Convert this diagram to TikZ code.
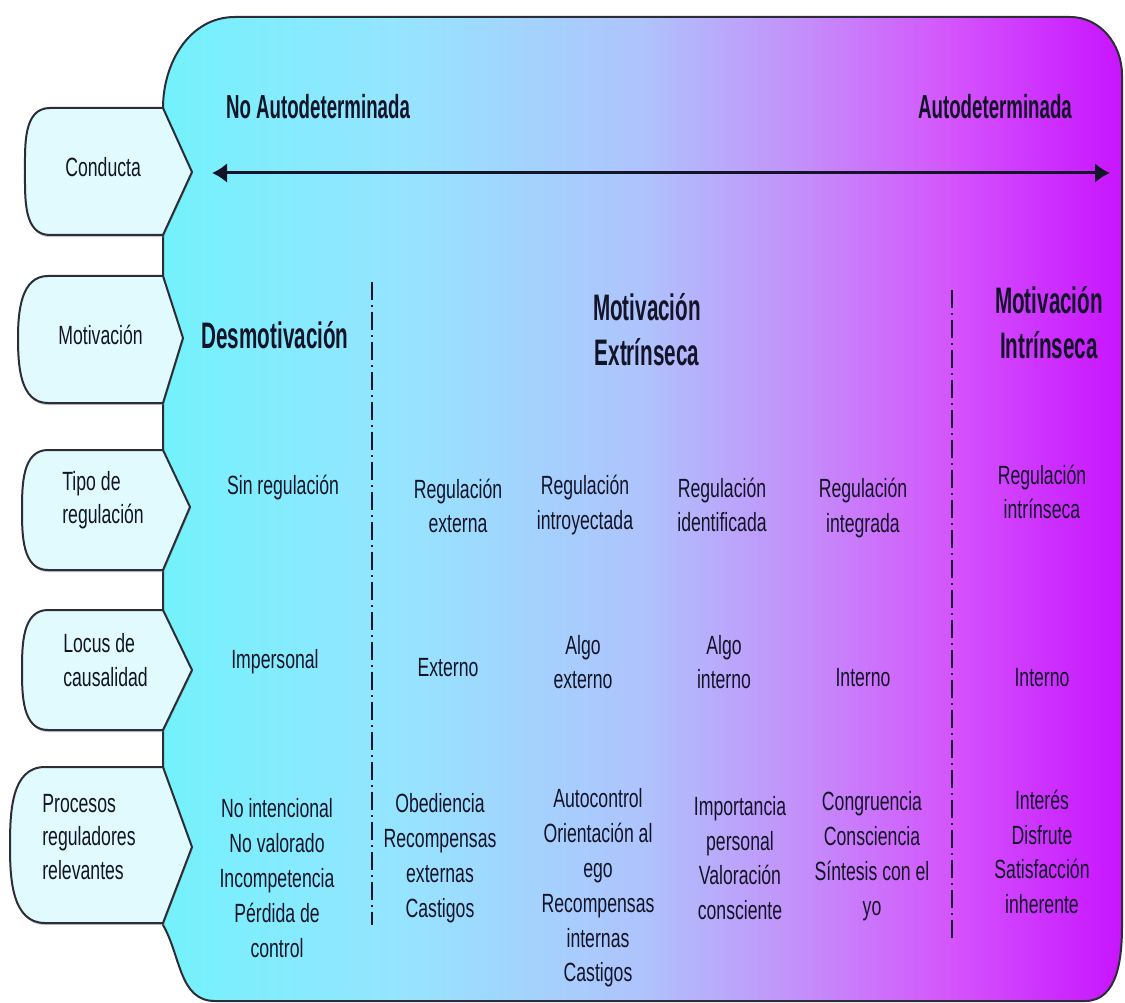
\documentclass[tikz,border=0pt]{standalone}
\usepackage{fontspec}
\setmainfont{Liberation Sans}[FakeStretch=0.67]
\newfontfamily\headfont{Liberation Sans}[FakeStretch=0.56]
\usetikzlibrary{arrows.meta,shadows}

\definecolor{ink}{RGB}{20,20,40}
\definecolor{edge}{RGB}{45,45,55}
\definecolor{tabfill}{RGB}{224,250,253}
\definecolor{sh0}{RGB}{115,242,252}
\definecolor{sh1}{RGB}{150,228,255}
\definecolor{sh2}{RGB}{175,195,252}
\definecolor{sh3}{RGB}{195,145,250}
\definecolor{sh4}{RGB}{212,85,252}
\definecolor{sh5}{RGB}{200,20,255}
% 路径只占用渐变中间的 25bp--75bp
\pgfdeclarehorizontalshading{motivshade}{100bp}{color(0bp)=(sh0); color(25bp)=(sh0);
  color(37.5bp)=(sh1); color(50bp)=(sh2); color(58bp)=(sh3); color(66bp)=(sh4);
  color(75bp)=(sh5); color(100bp)=(sh5)}

\begin{document}
\begin{tikzpicture}
    % 坐标按像素取, y 轴向下
    [x=0.02cm, y=-0.02cm,
    tab/.style={draw=edge, line width=0.04cm, fill=tabfill,
        drop shadow={shadow xshift=0.4pt, shadow yshift=-1.2pt, opacity=0.45}},
    tablabel/.style={anchor=west, align=left, text=ink, inner sep=0pt,
        font=\fontsize{15}{19}\selectfont},
    cell/.style={align=center, text=ink, inner sep=0pt, font=\fontsize{15}{19.8}\selectfont},
    head/.style={align=center, text=ink, inner sep=0pt,
        font=\headfont\bfseries\fontsize{21}{25.6}\selectfont},
    axis/.style={line width=0.06cm, ink, {Latex[length=0.3cm, width=0.4cm]}-{Latex[length=0.3cm, width=0.4cm]}},
    divider/.style={ink, line width=0.03cm, dash pattern=on 0.36cm off 0.1cm on 0.04cm off 0.1cm}]
    \useasboundingbox (0, 0) rectangle (1125, 1003);
    % 主体色块
    \draw[edge, line width=0.04cm, shading=motivshade]
    (163, 108) to[out=90, in=180] (235, 17) -- (1070, 17) to[out=0, in=90] (1122, 75)
    -- (1122, 925) to[out=-90, in=0] (1085, 1001) -- (215, 1001)
    to[out=180, in=-60] (163, 925) -- cycle;
    % 左侧标签
    \draw[tab] (163, 108) -- (50, 108) to[out=180, in=90] (25, 172)
    to[out=-90, in=180] (50, 235) -- (163, 235) -- (192, 172) -- cycle;
    \draw[tab] (163, 276) -- (48, 276) to[out=180, in=90] (18, 338)
    to[out=-90, in=180] (48, 403) -- (163, 403) -- (183, 338) -- cycle;
    \draw[tab] (163, 450) -- (48, 450) to[out=180, in=90] (22, 510)
    to[out=-90, in=180] (48, 570) -- (163, 570) -- (190, 507) -- cycle;
    \draw[tab] (163, 610) -- (48, 610) to[out=180, in=90] (22, 670)
    to[out=-90, in=180] (48, 730) -- (163, 730) -- (192, 670) -- cycle;
    \draw[tab] (163, 767) -- (45, 767) to[out=180, in=90] (10, 847)
    to[out=-90, in=180] (45, 923) -- (163, 923) -- (192, 847) -- cycle;
    \node[tablabel] (conducta) at (65, 167) {Conducta};
    \node[tablabel] (motivacion) at (58, 335) {Motivación};
    \node[tablabel] (tipo) at (62, 500) {Tipo de\\regulación};
    \node[tablabel] (locus) at (63, 660) {Locus de\\causalidad};
    \node[tablabel] (procesos) at (42, 837) {Procesos\\reguladores\\relevantes};
    % 顶部标题与箭头
    \node[head, font=\headfont\bfseries\fontsize{19}{23}\selectfont] (noauto) at (318, 107) {No Autodeterminada};
    \node[head, font=\headfont\bfseries\fontsize{19}{23}\selectfont] (auto) at (995, 107) {Autodeterminada};
    \coordinate (axisL) at (212, 173);
    \coordinate (axisR) at (1110, 173);
    \draw[axis] (axisL) -- (axisR);
    % 分隔虚线
    \coordinate (divAtop) at (372, 282);
    \coordinate (divAbot) at (372, 925);
    \coordinate (divBtop) at (952, 290);
    \coordinate (divBbot) at (952, 938);
    \draw[divider] (divAtop) -- (divAbot);
    \draw[divider] (divBtop) -- (divBbot);
    % 动机
    \node[head] (desmot) at (275, 335) {Desmotivación};
    \node[head] (extrin) at (647, 330) {Motivación\\Extrínseca};
    \node[head] (intrin) at (1049, 323) {Motivación\\Intrínseca};
    % 调节类型
    \node[cell] (sinreg) at (283, 488) {Sin regulación};
    \node[cell] (regext) at (458, 506) {Regulación\\externa};
    \node[cell] (regintro) at (585, 505) {Regulación\\introyectada};
    \node[cell] (regident) at (722, 505) {Regulación\\identificada};
    \node[cell] (reginteg) at (863, 508) {Regulación\\integrada};
    \node[cell] (regintrin) at (1042, 492) {Regulación\\intrínseca};
    % 因果源
    \node[cell] (impers) at (275, 662) {Impersonal};
    \node[cell] (externo) at (448, 668) {Externo};
    \node[cell] (algoext) at (583, 662) {Algo\\externo};
    \node[cell] (algoint) at (724, 662) {Algo\\interno};
    \node[cell] (internoA) at (863, 678) {Interno};
    \node[cell] (internoB) at (1042, 678) {Interno};
    % 调节过程
    \node[cell] (procA) at (277, 878) {No intencional\\No valorado\\Incompetencia\\Pérdida de\\control};
    \node[cell] (procB) at (440, 858) {Obediencia\\Recompensas\\externas\\Castigos};
    \node[cell] (procC) at (598, 888) {Autocontrol\\Orientación al\\ego\\Recompensas\\internas\\Castigos};
    \node[cell] (procD) at (740, 858) {Importancia\\personal\\Valoración\\consciente};
    \node[cell] (procE) at (872, 856) {Congruencia\\Consciencia\\Síntesis con el\\yo};
    \node[cell] (procF) at (1042, 852) {Interés\\Disfrute\\Satisfacción\\inherente};
\end{tikzpicture}
\end{document}
